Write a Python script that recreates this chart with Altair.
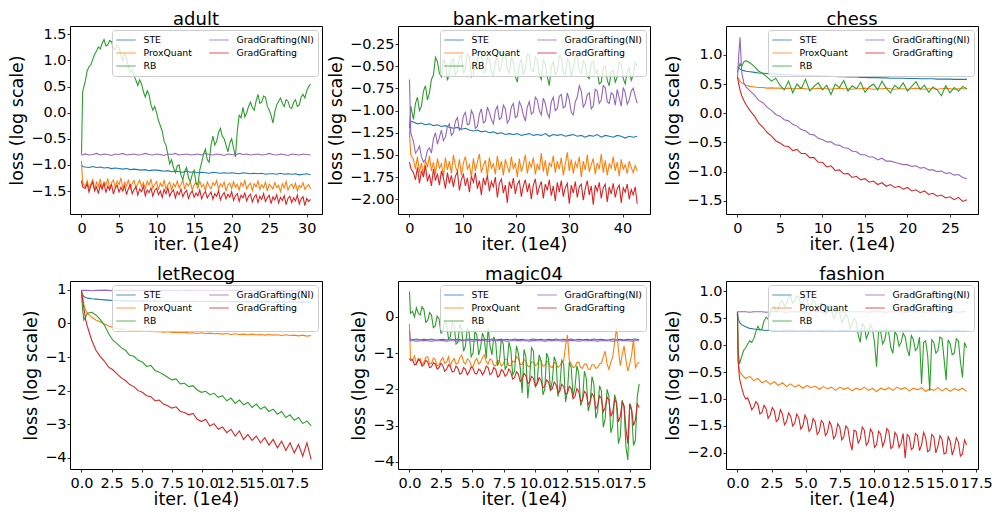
import altair as alt
import pandas as pd

SERIES = ["STE", "ProxQuant", "RB", "GradGrafting(NI)", "GradGrafting"]
LEGEND_ORDER = ["STE", "ProxQuant", "RB", "GradGrafting(NI)", "GradGrafting"]
LEGEND_COLORS = ["#1f77b4", "#ff7f0e", "#2ca02c", "#9467bd", "#d62728"]

# Each series: first values sit on the panel's HEAD_X iterations, the rest are
# evenly spaced logged iterations from START to END (x in units of 1e4 iters).

# ---------------- adult ----------------
ADULT_HEAD_X = [0, 0.15]
ADULT_START, ADULT_END = 0.5, 30.5
ADULT_STE = [-1.00, -1.03,
    -1.04, -1.05, -1.03, -1.05, -1.04, -1.06, -1.05, -1.07, -1.06, -1.07,
    -1.08, -1.07, -1.09, -1.08, -1.09, -1.10, -1.09, -1.11, -1.10, -1.10,
    -1.11, -1.12, -1.11, -1.13, -1.12, -1.13, -1.14, -1.12, -1.14, -1.13,
    -1.15, -1.14, -1.15, -1.16, -1.14, -1.15, -1.16, -1.15, -1.16, -1.15,
    -1.16, -1.17, -1.15, -1.16, -1.17, -1.16, -1.17, -1.16, -1.18, -1.17,
    -1.17, -1.18, -1.16, -1.18, -1.17, -1.18, -1.17, -1.19, -1.18, -1.17, -1.19]
ADULT_PQ = [-0.92, -1.35,
    -1.42, -1.30, -1.45, -1.36, -1.28, -1.47, -1.33, -1.41, -1.27, -1.44,
    -1.32, -1.39, -1.26, -1.46, -1.34, -1.29, -1.43, -1.31, -1.38, -1.25,
    -1.45, -1.33, -1.40, -1.28, -1.47, -1.35, -1.30, -1.44, -1.36, -1.29,
    -1.42, -1.34, -1.46, -1.31, -1.39, -1.27, -1.45, -1.37, -1.32, -1.48,
    -1.35, -1.41, -1.30, -1.46, -1.38, -1.33, -1.49, -1.36, -1.42, -1.31,
    -1.44, -1.37, -1.29, -1.47, -1.35, -1.40, -1.32, -1.48, -1.38, -1.34,
    -1.45, -1.31, -1.42, -1.37, -1.49, -1.33, -1.40, -1.46, -1.34, -1.39,
    -1.30, -1.47, -1.36, -1.42, -1.33, -1.50, -1.38, -1.35, -1.45, -1.32,
    -1.43, -1.37, -1.48, -1.34, -1.41, -1.30, -1.46, -1.39, -1.35, -1.49,
    -1.36, -1.42, -1.31, -1.47, -1.38, -1.44, -1.33, -1.50, -1.37, -1.41,
    -1.46, -1.34, -1.43, -1.39, -1.51, -1.36, -1.44, -1.32, -1.48, -1.40,
    -1.37, -1.45, -1.35, -1.50, -1.39, -1.43, -1.34, -1.47, -1.41, -1.38, -1.46]
ADULT_RB = [-0.80, 0.40,
    0.60, 0.80, 0.88, 0.92, 1.02, 1.12, 1.18, 1.26, 1.22, 1.33,
    1.40, 1.28, 1.30, 1.38, 1.36, 1.24, 1.20, 1.30, 1.25, 1.10,
    1.00, 1.12, 1.05, 0.88, 0.78, 0.82, 0.70, 0.62, 0.52, 0.63,
    0.55, 0.40, 0.30, 0.42, 0.35, 0.15, 0.05, 0.12, 0.00, -0.15,
    -0.25, -0.35, -0.55, -0.62, -0.80, -0.98, -0.90, -1.05, -1.15, -1.02,
    -1.00, -1.20, -1.28, -1.12, -1.05, -1.25, -1.32, -1.18, -1.10, -1.35,
    -1.38, -1.10, -0.95, -0.80, -0.70, -0.90, -0.95, -0.62, -0.45, -0.62,
    -0.55, -0.38, -0.30, -0.45, -0.50, -0.62, -0.75, -0.58, -0.50, -0.68,
    -0.85, -0.35, -0.05, -0.10, 0.10, -0.08, 0.00, 0.12, 0.20, 0.10,
    0.05, 0.22, 0.35, 0.18, 0.20, 0.32, 0.30, 0.12, 0.05, -0.05,
    -0.20, 0.02, 0.15, 0.22, 0.28, 0.18, 0.12, 0.25, 0.22, 0.10,
    0.08, 0.20, 0.25, 0.12, 0.15, 0.30, 0.35, 0.28, 0.42, 0.50, 0.55]
ADULT_NI = [-0.80, -0.81,
    -0.79, -0.81, -0.80, -0.78, -0.81, -0.79, -0.80, -0.82, -0.79, -0.80,
    -0.78, -0.81, -0.80, -0.79, -0.81, -0.80, -0.78, -0.80, -0.81, -0.79,
    -0.80, -0.82, -0.79, -0.80, -0.78, -0.81, -0.80, -0.79, -0.81, -0.80,
    -0.79, -0.81, -0.78, -0.80, -0.81, -0.79, -0.80, -0.82, -0.79, -0.80,
    -0.81, -0.78, -0.80, -0.79, -0.81, -0.80, -0.79, -0.81, -0.80, -0.78,
    -0.80, -0.81, -0.79, -0.80, -0.82, -0.79, -0.80, -0.81, -0.79, -0.80, -0.81]
ADULT_GG = [-1.30, -1.42,
    -1.45, -1.36, -1.52, -1.40, -1.33, -1.50, -1.42, -1.55, -1.38, -1.47,
    -1.35, -1.53, -1.41, -1.48, -1.37, -1.56, -1.44, -1.39, -1.52, -1.43,
    -1.50, -1.40, -1.57, -1.45, -1.38, -1.55, -1.47, -1.42, -1.58, -1.46,
    -1.51, -1.41, -1.59, -1.48, -1.53, -1.44, -1.60, -1.49, -1.45, -1.57,
    -1.50, -1.62, -1.47, -1.55, -1.44, -1.60, -1.52, -1.48, -1.63, -1.51,
    -1.57, -1.46, -1.61, -1.53, -1.49, -1.64, -1.55, -1.50, -1.62, -1.54,
    -1.59, -1.48, -1.65, -1.56, -1.51, -1.63, -1.57, -1.52, -1.66, -1.55,
    -1.60, -1.50, -1.67, -1.58, -1.53, -1.65, -1.56, -1.62, -1.51, -1.68,
    -1.59, -1.55, -1.70, -1.58, -1.63, -1.54, -1.69, -1.60, -1.56, -1.71,
    -1.62, -1.57, -1.72, -1.60, -1.66, -1.55, -1.70, -1.63, -1.58, -1.74,
    -1.61, -1.67, -1.57, -1.73, -1.62, -1.68, -1.59, -1.76, -1.64, -1.60,
    -1.72, -1.63, -1.69, -1.58, -1.75, -1.65, -1.61, -1.78, -1.64, -1.70, -1.66]

# ---------------- bank-marketing ----------------
BANK_HEAD_X = [0, 0.25]
BANK_START, BANK_END = 0.75, 42.75
BANK_STE = [-1.30, -1.12,
    -1.13, -1.15, -1.14, -1.16, -1.15, -1.17, -1.16, -1.18, -1.17, -1.19,
    -1.20, -1.19, -1.21, -1.20, -1.22, -1.23, -1.22, -1.24, -1.23, -1.25,
    -1.24, -1.26, -1.25, -1.27, -1.26, -1.27, -1.26, -1.28, -1.27, -1.26,
    -1.28, -1.27, -1.28, -1.26, -1.29, -1.27, -1.28, -1.27, -1.29, -1.28,
    -1.27, -1.29, -1.28, -1.30, -1.28, -1.29, -1.27, -1.30, -1.28, -1.29,
    -1.30, -1.28, -1.29, -1.31, -1.29, -1.30, -1.29]
BANK_PQ = [-1.25, -1.50,
    -1.55, -1.66, -1.52, -1.70, -1.59, -1.73, -1.56, -1.64, -1.51, -1.68,
    -1.58, -1.72, -1.54, -1.65, -1.60, -1.74, -1.53, -1.67, -1.57, -1.71,
    -1.50, -1.63, -1.69, -1.55, -1.73, -1.59, -1.52, -1.66, -1.61, -1.75,
    -1.54, -1.68, -1.58, -1.49, -1.70, -1.62, -1.56, -1.74, -1.53, -1.65,
    -1.60, -1.72, -1.51, -1.67, -1.57, -1.73, -1.55, -1.63, -1.70, -1.52,
    -1.66, -1.59, -1.75, -1.54, -1.69, -1.61, -1.50, -1.71, -1.58, -1.64,
    -1.53, -1.72, -1.60, -1.67, -1.48, -1.69, -1.56, -1.74, -1.59, -1.63,
    -1.51, -1.70, -1.57, -1.66, -1.53, -1.73, -1.60, -1.47, -1.68, -1.55,
    -1.71, -1.58, -1.64, -1.52, -1.75, -1.57, -1.67, -1.50, -1.69, -1.61,
    -1.54, -1.72, -1.59, -1.66, -1.49, -1.70, -1.56, -1.73, -1.60, -1.65,
    -1.52, -1.68, -1.58, -1.74, -1.55, -1.66, -1.61, -1.71, -1.57, -1.64,
    -1.70, -1.62, -1.68]
BANK_RB = [-1.20, -0.95,
    -1.10, -0.92, -0.85, -1.00, -0.95, -0.78, -0.72, -0.88, -0.80, -0.65,
    -0.60, -0.40, -0.45, -0.58, -0.62, -0.42, -0.48, -0.66, -0.58, -0.44,
    -0.42, -0.60, -0.55, -0.40, -0.38, -0.58, -0.52, -0.36, -0.40, -0.62,
    -0.60, -0.46, -0.45, -0.32, -0.35, -0.58, -0.55, -0.40, -0.42, -0.56,
    -0.62, -0.45, -0.40, -0.56, -0.50, -0.34, -0.36, -0.54, -0.58, -0.40,
    -0.45, -0.62, -0.68, -0.48, -0.42, -0.60, -0.52, -0.36, -0.38, -0.55,
    -0.56, -0.40, -0.44, -0.60, -0.65, -0.42, -0.48, -0.62, -0.72, -0.50,
    -0.45, -0.60, -0.55, -0.38, -0.40, -0.57, -0.60, -0.42, -0.46, -0.62,
    -0.52, -0.40, -0.38, -0.56, -0.58, -0.44, -0.48, -0.62, -0.64, -0.46,
    -0.45, -0.58, -0.55, -0.70, -0.68, -0.52, -0.50, -0.66, -0.72, -0.56,
    -0.55, -0.68, -0.62, -0.45, -0.48, -0.64, -0.70, -0.55, -0.52, -0.66,
    -0.60, -0.46, -0.50]
BANK_NI = [-0.65, -1.25,
    -1.35, -1.48, -1.45, -1.40, -1.52, -1.58, -1.55, -1.45, -1.42, -1.48,
    -1.32, -1.25, -1.38, -1.30, -1.22, -1.34, -1.30, -1.18, -1.15, -1.28,
    -1.25, -1.12, -1.08, -1.22, -1.20, -1.06, -1.02, -1.16, -1.15, -1.00,
    -1.05, -1.20, -1.18, -1.04, -0.98, -1.14, -1.12, -0.96, -1.02, -1.10,
    -1.15, -1.00, -0.95, -1.10, -1.08, -0.94, -0.98, -1.14, -1.10, -0.96,
    -0.92, -1.08, -1.06, -0.90, -0.95, -1.05, -1.12, -0.96, -0.90, -1.04,
    -1.02, -0.85, -0.88, -1.00, -1.05, -0.86, -0.92, -1.03, -1.08, -0.90,
    -0.85, -1.00, -0.98, -0.84, -0.82, -0.97, -0.95, -0.80, -0.88, -1.02,
    -1.05, -0.90, -0.85, -0.72, -0.78, -0.96, -0.92, -0.82, -0.80, -0.98,
    -0.95, -0.76, -0.78, -0.92, -0.88, -0.72, -0.74, -0.90, -0.92, -0.80,
    -0.82, -0.94, -0.76, -0.86, -0.95, -0.74, -0.80, -0.93, -0.88, -0.78,
    -0.75, -0.84, -0.92]
BANK_GG = [-1.58, -1.65,
    -1.70, -1.78, -1.64, -1.82, -1.68, -1.75, -1.62, -1.80, -1.72, -1.85,
    -1.66, -1.79, -1.71, -1.84, -1.68, -1.76, -1.88, -1.70, -1.82, -1.73,
    -1.86, -1.74, -1.69, -1.90, -1.78, -1.72, -1.85, -1.76, -1.92, -1.74,
    -1.81, -1.70, -1.88, -1.79, -1.95, -1.76, -1.84, -1.73, -1.91, -1.80,
    -1.86, -1.75, -1.98, -1.82, -1.77, -1.93, -1.84, -2.04, -1.80, -1.88,
    -1.76, -1.94, -1.83, -1.79, -1.97, -1.85, -1.78, -1.92, -1.82, -2.00,
    -1.84, -1.77, -1.95, -1.86, -1.80, -1.99, -1.83, -1.90, -1.78, -1.96,
    -1.85, -2.02, -1.81, -1.92, -1.79, -1.97, -1.87, -1.82, -2.05, -1.84,
    -1.93, -1.80, -1.98, -1.86, -1.83, -2.01, -1.88, -1.79, -1.95, -1.85,
    -2.06, -1.84, -1.91, -1.81, -1.99, -1.87, -1.83, -2.03, -1.86, -1.94,
    -1.82, -1.98, -1.88, -1.84, -2.04, -1.87, -1.92, -1.83, -2.00, -1.89,
    -1.95, -1.86, -2.05]

# ---------------- chess ----------------
CHESS_HEAD_X = [0, 0.15, 0.3, 0.5, 0.75]
CHESS_START, CHESS_END = 1.0, 27.0
CHESS_STE = [0.80, 0.78, 0.76, 0.74, 0.73,
    0.72, 0.71, 0.70, 0.69, 0.685, 0.68, 0.675, 0.67,
    0.665, 0.66, 0.66, 0.655, 0.65, 0.65, 0.645, 0.645, 0.64, 0.64,
    0.635, 0.635, 0.63, 0.63, 0.625, 0.625, 0.62, 0.62, 0.62, 0.615,
    0.615, 0.61, 0.61, 0.61, 0.605, 0.605, 0.60, 0.60, 0.60, 0.60,
    0.595, 0.595, 0.595, 0.59, 0.59, 0.59, 0.59, 0.585, 0.585, 0.585,
    0.585, 0.58, 0.58, 0.58, 0.58]
CHESS_PQ = [0.62, 0.58, 0.55, 0.52, 0.50,
    0.48, 0.46, 0.45, 0.44, 0.44, 0.43, 0.435, 0.43,
    0.43, 0.42, 0.43, 0.42, 0.42, 0.43, 0.42, 0.41, 0.42, 0.43,
    0.42, 0.42, 0.41, 0.42, 0.43, 0.42, 0.42, 0.41, 0.42, 0.42,
    0.43, 0.42, 0.41, 0.42, 0.42, 0.43, 0.42, 0.41, 0.42, 0.42,
    0.41, 0.42, 0.43, 0.42, 0.41, 0.42, 0.42, 0.41, 0.42, 0.43,
    0.42, 0.41, 0.42, 0.42, 0.42]
CHESS_RB = [0.70, 0.78, 0.85, 0.80, 0.88,
    0.90, 0.86, 0.80, 0.72, 0.68, 0.62, 0.55, 0.60,
    0.48, 0.40, 0.55, 0.35, 0.50, 0.42, 0.58, 0.38, 0.46, 0.52,
    0.40, 0.48, 0.32, 0.50, 0.44, 0.56, 0.38, 0.47, 0.42, 0.53,
    0.36, 0.45, 0.50, 0.40, 0.55, 0.43, 0.35, 0.48, 0.42, 0.52,
    0.38, 0.46, 0.54, 0.41, 0.48, 0.36, 0.45, 0.40, 0.30, 0.47,
    0.35, 0.44, 0.38, 0.46, 0.42]
CHESS_NI = [0.60, 1.00, 1.30, 0.70, 0.52,
    0.45, 0.38, 0.31, 0.22, 0.18, 0.10, 0.05, -0.02, -0.05, -0.11,
    -0.13, -0.19, -0.22, -0.28, -0.30, -0.36, -0.37, -0.43, -0.45, -0.49,
    -0.49, -0.54, -0.55, -0.59, -0.60, -0.65, -0.66, -0.71, -0.71, -0.75,
    -0.75, -0.80, -0.77, -0.82, -0.82, -0.84, -0.86, -0.88, -0.88, -0.91,
    -0.90, -0.94, -0.93, -0.97, -0.97, -1.00, -0.99, -1.03, -1.02, -1.06,
    -1.05, -1.10, -1.12]
CHESS_GG = [0.62, 0.50, 0.40, 0.30, 0.22,
    0.15, 0.04, -0.05, -0.17, -0.24, -0.33, -0.39, -0.47, -0.51, -0.56,
    -0.57, -0.64, -0.62, -0.69, -0.69, -0.76, -0.76, -0.84, -0.84, -0.92,
    -0.90, -0.98, -0.97, -1.04, -1.03, -1.10, -1.08, -1.14, -1.12, -1.18,
    -1.16, -1.22, -1.19, -1.25, -1.22, -1.27, -1.25, -1.30, -1.27, -1.33,
    -1.31, -1.36, -1.33, -1.39, -1.37, -1.42, -1.40, -1.45, -1.43, -1.48,
    -1.44, -1.51, -1.48]

# ---------------- letRecog ----------------
LET_HEAD_X = [0, 0.1, 0.2, 0.35]
LET_START, LET_END = 0.5, 19.05
LET_STE = [0.95, 0.85, 0.80, 0.77,
    0.75, 0.73, 0.72, 0.71, 0.70, 0.69, 0.68, 0.68, 0.67,
    0.67, 0.67, 0.67, 0.66, 0.67, 0.67, 0.66, 0.67, 0.66, 0.66,
    0.66, 0.66, 0.65, 0.66, 0.66, 0.65, 0.66, 0.65, 0.65, 0.65,
    0.65, 0.65, 0.64, 0.65, 0.65, 0.64, 0.65, 0.64, 0.65, 0.64,
    0.64, 0.64, 0.65, 0.64, 0.64, 0.63, 0.64, 0.64, 0.63, 0.64,
    0.64, 0.63, 0.64, 0.63, 0.64]
LET_PQ = [0.95, 0.80, 0.55, 0.38,
    0.30, 0.18, 0.10, 0.05, -0.02, -0.08, -0.12, -0.15, -0.17, -0.19,
    -0.20, -0.22, -0.21, -0.23, -0.24, -0.22, -0.25, -0.24, -0.26, -0.25,
    -0.27, -0.26, -0.28, -0.26, -0.29, -0.28, -0.30, -0.28, -0.31, -0.29,
    -0.31, -0.30, -0.32, -0.30, -0.33, -0.31, -0.33, -0.32, -0.34, -0.32,
    -0.34, -0.33, -0.35, -0.33, -0.35, -0.34, -0.36, -0.34, -0.36, -0.35,
    -0.37, -0.35, -0.38, -0.36]
LET_RB = [0.90, 0.40, 0.10, 0.20,
    0.30, 0.33, 0.25, 0.12, -0.05, -0.30, -0.50, -0.60, -0.72, -0.80,
    -0.95, -0.98, -1.10, -1.15, -1.28, -1.25, -1.40, -1.45, -1.52, -1.60,
    -1.68, -1.65, -1.80, -1.78, -1.88, -1.85, -1.98, -2.05, -2.02, -2.12,
    -2.08, -2.20, -2.15, -2.30, -2.22, -2.38, -2.28, -2.42, -2.35, -2.50,
    -2.40, -2.55, -2.48, -2.62, -2.55, -2.70, -2.62, -2.80, -2.72, -2.88,
    -2.80, -2.98, -2.90, -3.05]
LET_NI = [0.98, 0.98, 0.98, 0.98,
    0.98, 0.97, 0.98, 0.98, 0.99, 0.98, 0.97, 0.98, 0.98, 0.98,
    0.97, 0.98, 0.98, 0.99, 0.98, 0.98, 0.97, 0.98, 0.98, 0.98,
    0.98, 0.97, 0.98, 0.98, 0.99, 0.98, 0.98, 0.97, 0.98, 0.98,
    0.98, 0.98, 0.97, 0.98, 0.98, 0.99, 0.98, 0.98, 0.97, 0.98,
    0.98, 0.98, 0.97, 0.98, 0.99, 0.98, 0.98, 0.97, 0.98, 0.98,
    0.98, 0.97, 0.98, 0.98]
LET_GG = [0.98, 0.70, 0.45, 0.10,
    -0.10, -0.50, -0.80, -0.98, -1.12, -1.30, -1.38, -1.50, -1.62, -1.70,
    -1.82, -1.88, -2.00, -2.05, -2.15, -2.18, -2.30, -2.28, -2.40, -2.45,
    -2.52, -2.48, -2.62, -2.65, -2.72, -2.68, -2.85, -2.92, -2.85, -3.05,
    -2.98, -3.15, -3.08, -3.25, -3.15, -3.35, -3.20, -3.45, -3.30, -3.48,
    -3.35, -3.55, -3.40, -3.62, -3.45, -3.70, -3.50, -3.78, -3.55, -3.85,
    -3.60, -3.95, -3.55, -4.05]

# ---------------- magic04 ----------------
MAGIC_HEAD_X = [0, 0.08]
MAGIC_START, MAGIC_END = 0.25, 18.25
MAGIC_STE = [-0.62, -0.63,
    -0.63, -0.61, -0.64, -0.62, -0.63, -0.61, -0.64, -0.63, -0.62, -0.64,
    -0.61, -0.63, -0.62, -0.64, -0.63, -0.61, -0.63, -0.62, -0.64, -0.62,
    -0.63, -0.61, -0.64, -0.62, -0.63, -0.62, -0.64, -0.61, -0.63, -0.62,
    -0.64, -0.63, -0.61, -0.63, -0.62, -0.64, -0.62, -0.63, -0.61, -0.64,
    -0.62, -0.63, -0.61, -0.64, -0.62, -0.63, -0.62, -0.64, -0.61, -0.63,
    -0.62, -0.64, -0.63, -0.61, -0.63, -0.62, -0.64, -0.62, -0.63, -0.61, -0.63]
MAGIC_PQ = [-0.20, -1.15,
    -1.20, -1.08, -1.30, -1.22, -1.15, -1.32, -1.25, -1.12, -1.10, -1.30,
    -1.28, -1.14, -1.18, -1.36, -1.32, -1.20, -1.12, -1.28, -1.25, -1.10,
    -1.35, -1.22, -1.15, -1.30, -1.28, -1.12, -1.05, -1.25, -1.30, -1.16,
    -1.20, -1.34, -1.38, -1.22, -1.15, -1.30, -1.25, -1.12, -1.05, -1.24,
    -1.30, -1.16, -1.20, -1.34, -1.35, -1.20, -1.22, -1.36, -1.30, -1.16,
    -1.18, -1.34, -1.35, -1.22, -1.25, -1.10, -1.15, -1.30, -1.32, -1.18,
    -1.22, -1.36, -1.38, -1.24, -1.25, -1.34, -1.30, -1.18, -1.20, -1.36,
    -1.35, -1.22, -1.25, -1.38, -1.40, -1.26, -1.28, -1.40, -1.35, -1.24,
    -1.22, -0.80, -0.50, -1.20, -1.30, -1.40, -1.38, -1.26, -1.25, -1.40,
    -1.42, -1.30, -1.30, -1.44, -1.45, -1.32, -1.32, -1.42, -1.40, -1.30,
    -1.28, -1.10, -0.95, -1.30, -1.45, -1.25, -1.10, -0.70, -0.30, -0.90,
    -1.35, -1.05, -0.80, -1.20, -1.50, -1.30, -1.05, -0.60, -1.40, -1.30, -1.25]
MAGIC_RB = [0.70, 0.10,
    0.15, 0.00, 0.25, 0.10, 0.05, 0.28, 0.20, -0.15, -0.10, 0.12,
    0.05, -0.30, -0.25, 0.02, -0.05, -0.45, -0.40, -0.10, -0.20, -0.60,
    -0.55, -0.15, -0.25, -0.75, -0.70, -0.20, -0.35, -0.95, -0.80, -0.30,
    -0.45, -1.10, -1.00, -0.40, -0.50, -1.05, -0.85, -0.45, -0.60, -1.15,
    -0.30, -0.80, -1.05, -0.55, -0.70, -1.35, -1.20, -0.60, -0.75, -1.45,
    -1.35, -0.70, -0.90, -1.60, -1.50, -0.80, -1.00, -1.40, -2.10, -0.90,
    -1.10, -2.25, -1.70, -0.85, -0.95, -1.95, -1.80, -1.05, -1.20, -2.15,
    -2.00, -1.00, -1.15, -2.05, -1.75, -1.10, -1.25, -2.20, -1.90, -1.20,
    -1.30, -2.35, -2.05, -1.25, -1.40, -2.20, -1.95, -1.35, -1.55, -2.45,
    -2.30, -1.50, -1.70, -2.60, -2.40, -1.65, -1.85, -2.80, -2.60, -1.90,
    -2.05, -3.05, -2.80, -2.00, -2.20, -3.20, -3.00, -2.15, -2.35, -3.50,
    -3.30, -2.30, -2.50, -3.60, -3.95, -2.40, -2.60, -3.55, -3.40, -2.20, -1.85]
MAGIC_NI = [-0.38, -0.66,
    -0.66, -0.67, -0.66, -0.65, -0.66, -0.67, -0.66, -0.66, -0.65, -0.67,
    -0.66, -0.66, -0.67, -0.65, -0.66, -0.66, -0.67, -0.66, -0.65, -0.66,
    -0.67, -0.66, -0.66, -0.65, -0.66, -0.67, -0.66, -0.66, -0.65, -0.66,
    -0.66, -0.67, -0.65, -0.66, -0.66, -0.67, -0.66, -0.65, -0.66, -0.66,
    -0.67, -0.66, -0.65, -0.66, -0.67, -0.66, -0.66, -0.65, -0.66, -0.67,
    -0.66, -0.65, -0.66, -0.67, -0.66, -0.66, -0.65, -0.66, -0.67, -0.66, -0.66]
MAGIC_GG = [-1.15, -1.20,
    -1.18, -1.32, -1.30, -1.16, -1.22, -1.36, -1.32, -1.20, -1.25, -1.40,
    -1.38, -1.26, -1.30, -1.44, -1.40, -1.28, -1.35, -1.50, -1.45, -1.32,
    -1.38, -1.52, -1.50, -1.36, -1.42, -1.58, -1.55, -1.40, -1.45, -1.60,
    -1.52, -1.38, -1.42, -1.56, -1.58, -1.44, -1.48, -1.60, -1.52, -1.36,
    -1.40, -1.60, -1.55, -1.40, -1.45, -1.66, -1.62, -1.46, -1.50, -1.64,
    -1.58, -1.44, -1.52, -1.72, -1.68, -1.52, -1.58, -1.78, -1.72, -1.56,
    -1.62, -1.84, -1.80, -1.64, -1.70, -1.90, -1.85, -1.68, -1.75, -1.96,
    -1.92, -1.74, -1.80, -2.02, -1.98, -1.80, -1.88, -2.10, -2.05, -1.86,
    -1.92, -2.14, -2.10, -1.92, -1.98, -2.26, -2.20, -1.98, -2.05, -2.34,
    -2.28, -2.06, -2.12, -2.42, -2.35, -2.12, -2.20, -2.55, -2.45, -2.18,
    -2.25, -2.62, -2.50, -2.22, -2.30, -2.75, -2.62, -2.28, -2.38, -2.90,
    -2.75, -2.35, -2.45, -3.10, -3.50, -2.40, -2.55, -3.00, -2.85, -2.40, -2.50]

# ---------------- fashion ----------------
FASH_HEAD_X = [0, 0.05, 0.15]
FASH_START, FASH_END = 0.3, 16.8
FASH_STE = [0.62, 0.50, 0.42,
    0.38, 0.34, 0.31, 0.30, 0.29, 0.28,
    0.27, 0.28, 0.27, 0.26, 0.27, 0.28, 0.27, 0.27, 0.26, 0.27,
    0.28, 0.27, 0.26, 0.27, 0.27, 0.28, 0.27, 0.26, 0.27, 0.27,
    0.27, 0.26, 0.27, 0.28, 0.27, 0.27, 0.26, 0.27, 0.27, 0.28,
    0.27, 0.27, 0.26, 0.27, 0.28, 0.27, 0.26, 0.27, 0.27, 0.27,
    0.26, 0.27, 0.27, 0.28, 0.27, 0.26, 0.27, 0.27, 0.26, 0.27]
FASH_PQ = [0.60, -0.30, -0.48,
    -0.55, -0.62, -0.58, -0.66, -0.62, -0.70, -0.66, -0.73, -0.68, -0.75,
    -0.70, -0.77, -0.72, -0.78, -0.74, -0.80, -0.75, -0.79, -0.76, -0.82,
    -0.77, -0.81, -0.78, -0.84, -0.78, -0.82, -0.79, -0.85, -0.80, -0.83,
    -0.78, -0.84, -0.80, -0.86, -0.80, -0.83, -0.79, -0.84, -0.78, -0.82,
    -0.79, -0.85, -0.80, -0.83, -0.79, -0.86, -0.81, -0.84, -0.79, -0.85,
    -0.80, -0.86, -0.81, -0.84, -0.80, -0.86]
FASH_RB = [0.60, -0.10, -0.35,
    -0.22, -0.10, -0.05, 0.02, 0.08, 0.05, 0.12, 0.25, 0.35, 0.28,
    0.30, 0.45, 0.52, 0.48, 0.60, 0.70, 0.72, 0.62, 0.68, 0.80,
    0.82, 0.72, 0.78, 0.88, 0.90, 0.78, 0.82, 0.92, 0.88, 0.75,
    0.80, 0.90, 0.85, 0.70, 0.74, 0.84, 0.80, 0.64, 0.68, 0.78,
    0.74, 0.58, 0.62, 0.72, 0.66, 0.50, 0.55, 0.65, 0.60, 0.42,
    0.48, 0.58, 0.52, 0.30, 0.38, 0.50, 0.45, 0.20, 0.05, 0.40,
    0.35, 0.12, 0.22, 0.38, 0.30, 0.05, -0.40, 0.28, 0.25, 0.02,
    0.10, 0.30, 0.22, -0.05, -0.15, 0.25, 0.18, -0.02, 0.05, 0.22,
    0.15, -0.08, -0.20, 0.18, 0.10, -0.10, -0.05, 0.15, -0.72, 0.05,
    0.08, -0.20, -0.85, 0.10, 0.05, -0.15, -0.10, 0.15, 0.12, -0.25,
    -0.65, 0.10, 0.02, -0.18, -0.15, 0.12, 0.08, -0.30, -0.60, 0.05, -0.05]
FASH_NI = [0.62, 0.62, 0.62,
    0.62, 0.62, 0.61, 0.62, 0.62, 0.62, 0.61, 0.62, 0.62, 0.62,
    0.62, 0.61, 0.62, 0.62, 0.62, 0.62, 0.61, 0.62, 0.62, 0.62,
    0.61, 0.62, 0.62, 0.62, 0.62, 0.61, 0.62, 0.62, 0.62, 0.62,
    0.62, 0.61, 0.62, 0.62, 0.62, 0.61, 0.62, 0.62, 0.62, 0.62,
    0.61, 0.62, 0.62, 0.62, 0.62, 0.61, 0.62, 0.62, 0.62, 0.61,
    0.62, 0.62, 0.62, 0.61, 0.62, 0.62]
FASH_GG = [0.62, -0.30, -0.62,
    -0.78, -0.92, -1.00, -0.98, -1.08, -1.20, -1.15, -1.05, -1.10, -1.28,
    -1.25, -1.12, -1.18, -1.36, -1.30, -1.16, -1.22, -1.42, -1.38, -1.20,
    -1.28, -1.48, -1.42, -1.26, -1.32, -1.50, -1.45, -1.28, -1.35, -1.56,
    -1.50, -1.30, -1.38, -1.60, -1.55, -1.36, -1.42, -1.66, -1.60, -1.40,
    -1.45, -1.68, -1.62, -1.42, -1.50, -1.74, -1.68, -1.46, -1.52, -1.76,
    -1.70, -1.50, -1.55, -1.80, -1.95, -1.58, -1.60, -1.82, -1.75, -1.52,
    -1.58, -1.86, -1.80, -1.56, -1.62, -1.90, -1.85, -1.60, -1.65, -1.88,
    -1.78, -1.55, -1.60, -1.92, -1.88, -1.62, -1.68, -1.90, -1.82, -1.64,
    -2.10, -1.66, -1.70, -1.94, -1.90, -1.64, -1.68, -1.96, -1.85, -1.62,
    -1.72, -1.98, -1.95, -1.66, -1.70, -2.00, -1.88, -1.68, -1.75, -2.02,
    -2.00, -1.70, -1.78, -2.04, -1.92, -1.72, -1.80, -2.06, -2.02, -1.76, -1.85]

PANELS = [
    dict(title="adult", head=ADULT_HEAD_X, start=ADULT_START, end=ADULT_END,
         data={"STE": ADULT_STE, "ProxQuant": ADULT_PQ, "RB": ADULT_RB,
               "GradGrafting(NI)": ADULT_NI, "GradGrafting": ADULT_GG},
         xdom=[-1.53, 32.03], ydom=[-1.94, 1.66],
         xticks=[0, 5, 10, 15, 20, 25, 30], yticks=[-1.5, -1.0, -0.5, 0.0, 0.5, 1.0, 1.5],
         xfmt="d", yfmt=".1f"),
    dict(title="bank-marketing", head=BANK_HEAD_X, start=BANK_START, end=BANK_END,
         data={"STE": BANK_STE, "ProxQuant": BANK_PQ, "RB": BANK_RB,
               "GradGrafting(NI)": BANK_NI, "GradGrafting": BANK_GG},
         xdom=[-2.15, 45.15], ydom=[-2.166, -0.047],
         xticks=[0, 10, 20, 30, 40],
         yticks=[-2.0, -1.75, -1.5, -1.25, -1.0, -0.75, -0.5, -0.25],
         xfmt="d", yfmt=".2f"),
    dict(title="chess", head=CHESS_HEAD_X, start=CHESS_START, end=CHESS_END,
         data={"STE": CHESS_STE, "ProxQuant": CHESS_PQ, "RB": CHESS_RB,
               "GradGrafting(NI)": CHESS_NI, "GradGrafting": CHESS_GG},
         xdom=[-1.35, 28.3], ydom=[-1.725, 1.494],
         xticks=[0, 5, 10, 15, 20, 25], yticks=[-1.5, -1.0, -0.5, 0.0, 0.5, 1.0],
         xfmt="d", yfmt=".1f"),
    dict(title="letRecog", head=LET_HEAD_X, start=LET_START, end=LET_END,
         data={"STE": LET_STE, "ProxQuant": LET_PQ, "RB": LET_RB,
               "GradGrafting(NI)": LET_NI, "GradGrafting": LET_GG},
         xdom=[-0.95, 19.95], ydom=[-4.33, 1.26],
         xticks=[0, 2.5, 5, 7.5, 10, 12.5, 15, 17.5], yticks=[-4, -3, -2, -1, 0, 1],
         xfmt=".1f", yfmt="d"),
    dict(title="magic04", head=MAGIC_HEAD_X, start=MAGIC_START, end=MAGIC_END,
         data={"STE": MAGIC_STE, "ProxQuant": MAGIC_PQ, "RB": MAGIC_RB,
               "GradGrafting(NI)": MAGIC_NI, "GradGrafting": MAGIC_GG},
         xdom=[-0.91, 19.11], ydom=[-4.2, 0.99],
         xticks=[0, 2.5, 5, 7.5, 10, 12.5, 15, 17.5], yticks=[-4, -3, -2, -1, 0],
         xfmt=".1f", yfmt="d"),
    dict(title="fashion", head=FASH_HEAD_X, start=FASH_START, end=FASH_END,
         data={"STE": FASH_STE, "ProxQuant": FASH_PQ, "RB": FASH_RB,
               "GradGrafting(NI)": FASH_NI, "GradGrafting": FASH_GG},
         xdom=[-0.84, 17.64], ydom=[-2.3, 1.19],
         xticks=[0, 2.5, 5, 7.5, 10, 12.5, 15, 17.5],
         yticks=[-2.0, -1.5, -1.0, -0.5, 0.0, 0.5, 1.0],
         xfmt=".1f", yfmt=".1f"),
]

W, H = 252, 188
FONT = "DejaVu Sans"


def iterations(head, start, end, n):
    m = n - len(head)
    if m <= 1:
        return list(head)[:n] + [start] * max(m, 0)
    return list(head) + [round(start + (end - start) * k / (m - 1), 4) for k in range(m)]


def make_panel(p):
    rows = []
    for s in SERIES:
        ys = p["data"][s]
        xs = iterations(p["head"], p["start"], p["end"], len(ys))
        for x, y in zip(xs, ys):
            rows.append({"series": s, "x": x, "y": y})
    df = pd.DataFrame(rows)

    color = alt.Color(
        "series:N",
        scale=alt.Scale(domain=LEGEND_ORDER, range=LEGEND_COLORS),
        legend=alt.Legend(
            title=None, orient="top-right", offset=4, columns=2,
            symbolType="stroke", symbolSize=380, symbolStrokeWidth=1.5,
            symbolOpacity=0.7, labelFont=FONT, labelFontSize=9.3,
            labelColor="black", labelOffset=7, labelLimit=200,
            clipHeight=13, rowPadding=0, columnPadding=16, padding=3.5,
            fillColor="rgba(255,255,255,0.8)", strokeColor="#cccccc",
            cornerRadius=3,
        ),
    )
    xenc = alt.X("x:Q", scale=alt.Scale(domain=p["xdom"], nice=False, zero=False),
                 axis=alt.Axis(values=p["xticks"], format=p["xfmt"], title="iter. (1e4)",
                               labelPadding=4, titlePadding=1))
    yenc = alt.Y("y:Q", scale=alt.Scale(domain=p["ydom"], nice=False, zero=False),
                 axis=alt.Axis(values=p["yticks"], format=p["yfmt"], title="loss (log scale)",
                               labelPadding=1, titlePadding=4))
    layers = []
    for s in SERIES:
        layers.append(
            alt.Chart(df[df["series"] == s]).mark_line(clip=True).encode(
                x=xenc, y=yenc, color=color
            )
        )
    return alt.layer(*layers).properties(
        width=W, height=H,
        title=alt.TitleParams(p["title"], fontSize=18, font=FONT, fontWeight="normal",
                              color="black", anchor="middle", offset=-3),
    )


panels = [make_panel(p) for p in PANELS]

chart = (
    alt.concat(*panels, columns=3, spacing={"row": 67, "column": 76}, bounds="flush")
    .resolve_scale(x="independent", y="independent", color="independent")
    .resolve_legend(color="independent")
    .properties(padding={"top": 2, "left": 0, "right": 0, "bottom": 0}, background="white")
    .configure_view(stroke="black", strokeWidth=1)
    .configure_line(strokeWidth=1.1)
    .configure_axis(
        domain=False, grid=False, ticks=True, tickSize=3, tickWidth=0.8,
        tickColor="black", labelFont=FONT, labelFontSize=14.5, labelColor="black",
        titleFont=FONT, titleFontSize=17.5, titleFontWeight="normal",
        titleColor="black", labelOverlap=False, labelFlush=False,
    )
)

chart.save("out.html", embed_options={"renderer": "svg", "actions": False})
